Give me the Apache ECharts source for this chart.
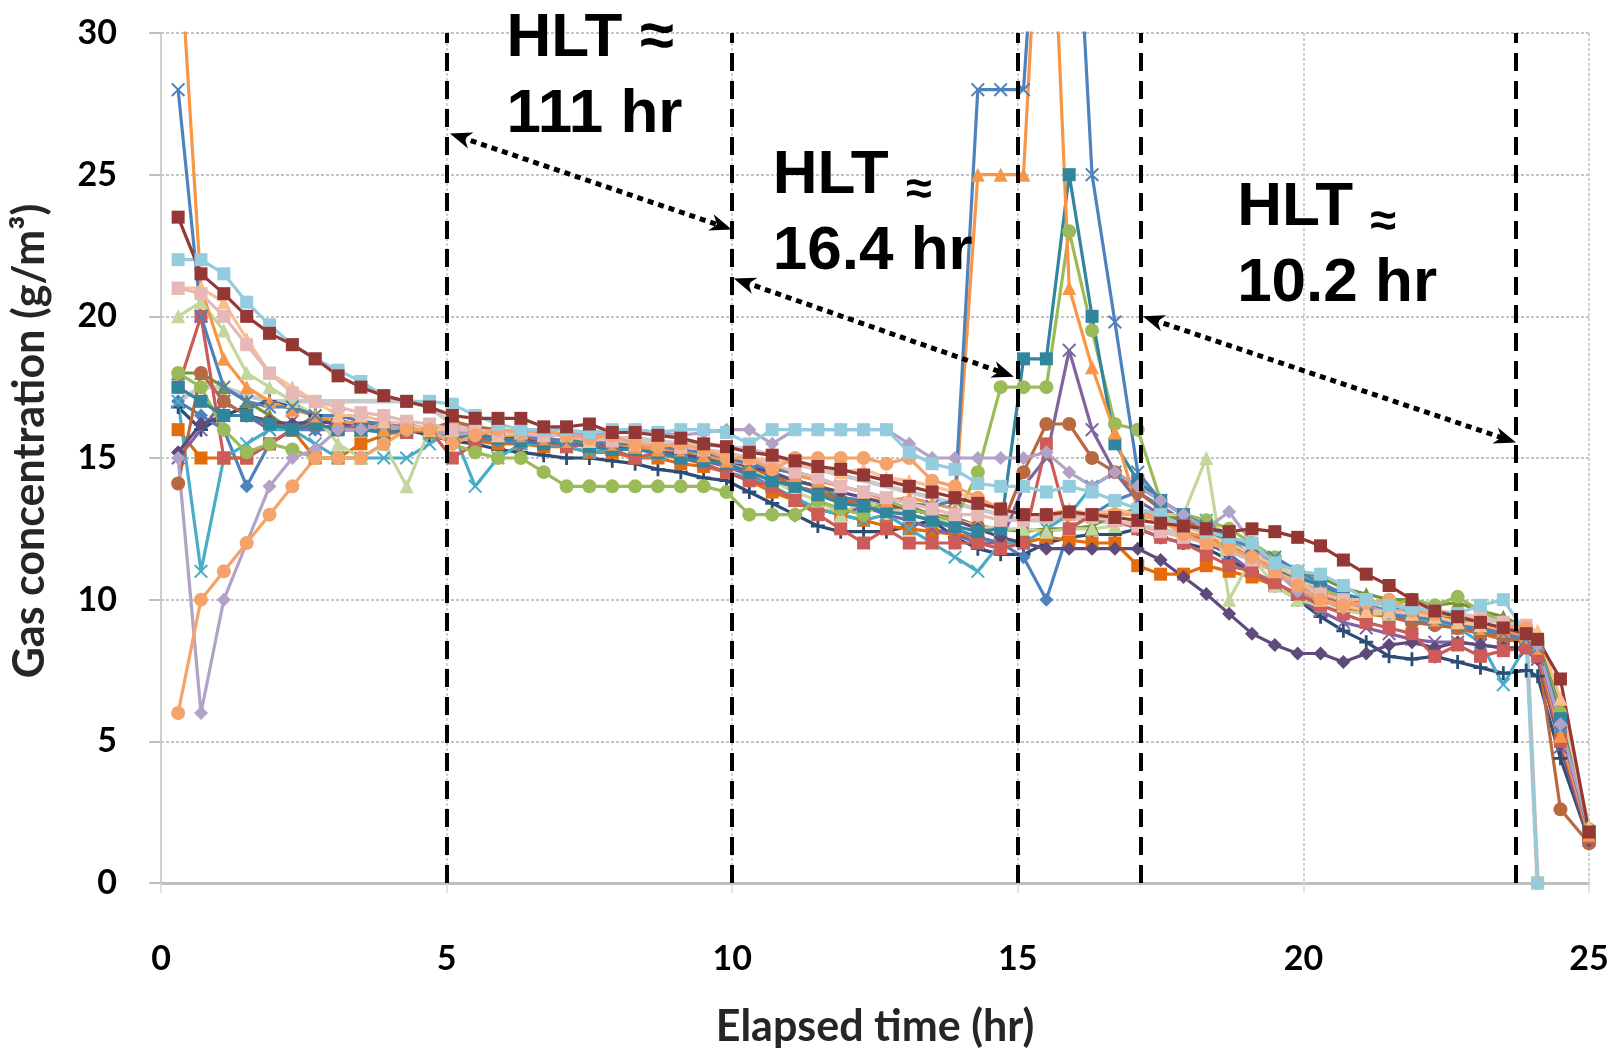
<!DOCTYPE html>
<html>
<head>
<meta charset="utf-8">
<title>Gas concentration vs elapsed time</title>
<script src="https://cdn.jsdelivr.net/npm/echarts@6/dist/echarts.min.js"></script>
<style>
  html, body { margin: 0; padding: 0; background: #ffffff; }
  #chart { width: 1624px; height: 1050px; }
</style>
</head>
<body>
<div id="chart"></div>
<script>
// Sampling times (hr), shared by every monitoring location
const hours = [0.3, 0.7, 1.1, 1.5, 1.9, 2.3, 2.7, 3.1,
  3.5, 3.9, 4.3, 4.7, 5.1, 5.5, 5.9, 6.3, 6.7, 7.1, 7.5, 7.9, 8.3, 8.7, 9.1, 9.5, 9.9,
  10.3, 10.7, 11.1, 11.5, 11.9, 12.3, 12.7, 13.1, 13.5, 13.9,
  14.3, 14.7, 15.1, 15.5, 15.9, 16.3, 16.7, 17.1,
  17.5, 17.9, 18.3, 18.7, 19.1, 19.5, 19.9,
  20.3, 20.7, 21.1, 21.5, 21.9, 22.3, 22.7, 23.1, 23.5, 23.9,
  24.1, 24.5, 25.0];

// Gas concentration (g/m3) at each location
const loc01 = [28, 20, 17.5, 17, 16.8, 16.8, 16.5, 16.5,
  16.3, 16.2, 16.2, 16.0, 15.8, 15.9, 16.0, 15.8, 15.7, 15.6, 15.6, 15.5, 15.5, 15.4, 15.3, 15.2, 15.0,
  14.8, 14.6, 14.5, 14.3, 14.0, 13.8, 13.6, 13.4, 13.3, 13.5,
  28, 28, 28, 40, 40, 25, 19.8, 14.5,
  13.5, 13.0, 12.6, 12.2, 11.8, 11.5, 11.0,
  10.6, 10.2, 9.8, 9.6, 9.4, 9.3, 9.1, 9.0, 8.8, 8.6,
  8.3, 5.5, 1.8];
const loc02 = [34, 21, 18.5, 17.5, 17.0, 16.7, 16.5, 16.3,
  16.2, 16.0, 16.1, 16.0, 15.9, 16.0, 15.8, 15.8, 15.7, 15.6, 15.6, 15.5, 15.4, 15.3, 15.3, 15.1, 14.9,
  14.8, 14.7, 14.4, 14.2, 14.0, 13.8, 13.5, 13.6, 13.4, 13.2,
  25, 25, 25, 40, 21, 18.2, 15.9, 13.2,
  12.8, 12.4, 12.2, 11.8, 11.5, 11.0, 10.6,
  10.3, 10.0, 9.8, 9.6, 9.5, 9.3, 9.2, 9.0, 8.9, 8.7,
  8.3, 5.2, 1.7];
const loc03 = [23.5, 21.5, 20.8, 20.0, 19.4, 19.0, 18.5, 17.9,
  17.5, 17.2, 17.0, 16.8, 16.5, 16.4, 16.4, 16.4, 16.1, 16.1, 16.2, 15.9, 15.9, 15.8, 15.7, 15.5, 15.4,
  15.2, 15.1, 14.9, 14.7, 14.6, 14.4, 14.2, 14.0, 13.8, 13.6,
  13.4, 13.2, 13.0, 13.0, 13.1, 13.0, 12.9, 12.8,
  12.7, 12.6, 12.5, 12.4, 12.5, 12.4, 12.2,
  11.9, 11.4, 10.9, 10.5, 10.0, 9.6, 9.4, 9.2, 9.0, 8.8,
  8.6, 7.2, 1.8];
const loc04 = [22, 22, 21.5, 20.5, 19.7, 19.0, 18.5, 18.1,
  17.7, 17.2, 17.0, 17.0, 16.9, 16.5, 16.2, 16.0, 16.0, 16.0, 15.9, 16.0, 16.0, 15.9, 16.0, 16.0, 15.9,
  15.5, 16.0, 16.0, 16.0, 16.0, 16.0, 16.0, 15.2, 14.8, 14.6,
  14.1, 14.0, 14.0, 13.8, 14.0, 13.8, 13.5, 13.2,
  13.0, 12.6, 12.4, 12.2, 12.0, 11.3, 11.0,
  10.9, 10.5, 10.0, 9.8, 9.7, 9.6, 9.5, 9.8, 10.0, 8.8,
  0, null, null];
const loc05 = [6, 10, 11, 12, 13, 14, 15, 15,
  15.0, 15.5, 16.0, 16.0, 15.5, 15.8, 16.0, 15.9, 16.0, 15.8, 15.7, 15.8, 15.5, 15.4, 15.5, 15.3, 15.0,
  15.0, 14.6, 15.0, 15.0, 15.0, 15.0, 14.8, 15.0, 14.2, 14.0,
  13.6, 13.2, 13.0, 13.0, 13.0, 13.0, 13.0, 13.0,
  12.8, 12.3, 12.0, 11.8, 11.5, 11.0, 10.5,
  10.0, 9.8, 9.9, 10.0, 9.6, 9.5, 9.4, 9.2, 9.0, 9.0,
  0, null, null];
const loc06 = [15, 6, 10, 12, 14, 15, 15.3, 16.0,
  16.0, 16.2, 16.0, 16.0, 15.8, 15.9, 16.0, 15.8, 15.8, 15.9, 15.8, 15.9, 16.0, 15.9, 15.8, 15.9, 16.0,
  16.0, 15.5, 16.0, 16.0, 16.0, 16.0, 16.0, 15.5, 15.0, 15.0,
  15.0, 15.0, 15.0, 15.2, 14.5, 14.0, 14.5, 14.0,
  13.5, 13.0, 12.5, 13.1, 12.0, 11.0, 10.3,
  10.0, 9.7, 9.8, 9.5, 9.8, 9.6, 9.4, 9.1, 9.0, 8.8,
  8.4, 5.6, 1.9];
const loc07 = [15.2, 16.2, 16.5, 16.5, 16.3, 16.2, 16.3, 16.2,
  16.2, 16.1, 16.0, 16.0, 15.8, 15.9, 15.8, 15.7, 15.6, 15.6, 15.5, 15.4, 15.4, 15.2, 15.1, 15.0, 14.9,
  14.7, 14.5, 14.2, 14.0, 13.8, 13.6, 13.4, 13.2, 13.0, 12.8,
  12.5, 12.2, 12.0, 11.8, 11.8, 11.8, 11.8, 11.8,
  11.4, 10.8, 10.2, 9.5, 8.8, 8.4, 8.1,
  8.1, 7.8, 8.1, 8.4, 8.5, 8.3, 8.5, 8.4, 8.3, 8.3,
  7.9, 4.9, 1.5];
const loc08 = [18, 17.5, 16, 15.2, 15.5, 15.3, 15.0, 15.0,
  15.0, 15.5, 16.0, 16.0, 15.5, 15.2, 15.0, 15.0, 14.5, 14.0, 14.0, 14.0, 14.0, 14.0, 14.0, 14.0, 13.8,
  13.0, 13.0, 13.0, 13.5, 13.2, 13.0, 13.5, 13.2, 13.0, 12.8,
  14.5, 17.5, 17.5, 17.5, 23.0, 19.5, 16.2, 16.0,
  13.5, 13.0, 12.8, 12.5, 12.0, 11.5, 11.0,
  10.5, 10.0, 10.0, 9.8, 10.0, 9.8, 10.1, 9.6, 9.2, 8.9,
  8.5, 6.0, 1.9];
const loc09 = [14.1, 18, 17, 16.5, 16.3, 16.0, 16.2, 16.0,
  16.0, 16.1, 16.2, 16.0, 16.3, 16.1, 16.0, 15.9, 15.9, 15.8, 15.7, 15.6, 15.5, 15.4, 15.3, 15.1, 15.0,
  14.6, 14.4, 14.0, 13.8, 13.5, 13.4, 13.3, 13.2, 13.0, 12.9,
  12.6, 12.5, 14.5, 16.2, 16.2, 15.0, 14.5, 13.8,
  13.2, 12.8, 12.4, 12.0, 11.6, 11.0, 10.6,
  10.2, 9.8, 9.6, 9.4, 9.2, 9.1, 9.0, 8.8, 8.7, 8.5,
  8.2, 2.6, 1.4];
const loc10 = [17.5, 17.0, 16.5, 16.5, 16.2, 16.0, 16.2, 16.0,
  16.0, 15.9, 16.0, 16.0, 15.8, 15.8, 15.7, 15.6, 15.5, 15.6, 15.4, 15.3, 15.3, 15.2, 15.0, 14.9, 14.8,
  14.5, 14.2, 14.0, 13.7, 13.4, 13.3, 13.1, 13.0, 12.8, 12.6,
  12.4, 12.5, 18.5, 18.5, 25.0, 20.0, 15.5, 14.2,
  13.5, 13.0, 12.5, 12.0, 11.5, 11.0, 10.8,
  10.5, 10.2, 10.0, 9.8, 9.6, 9.4, 9.3, 9.1, 9.0, 8.9,
  8.5, 5.8, 1.8];
const loc11 = [17, 11, 15, 15.5, 16.0, 16.0, 15.5, 15.0,
  15.0, 15.0, 15.0, 15.5, 16.0, 14.0, 15.0, 15.5, 15.5, 15.4, 15.2, 15.3, 15.0, 15.1, 15.0, 14.8, 14.5,
  14.3, 14.0, 13.6, 13.2, 13.0, 12.8, 13.0, 12.5, 12.0, 11.5,
  11.0, 12.0, 12.0, 12.5, 13.0, 14.0, 14.5, 14.0,
  13.5, 13.0, 12.8, 12.2, 11.5, 11.2, 10.8,
  10.5, 10.0, 9.8, 9.6, 9.4, 9.2, 9.0, 8.5, 7.0, 8.4,
  8.0, 5.2, 1.6];
const loc12 = [17, 16.5, 16.0, 14.0, 15.5, 16.0, 16.0, 16.0,
  16.0, 16.0, 16.1, 16.0, 15.8, 15.7, 15.6, 15.5, 15.6, 15.5, 15.4, 15.4, 15.3, 15.2, 15.1, 15.0, 14.8,
  14.5, 14.2, 14.0, 13.8, 13.6, 13.5, 13.2, 13.0, 12.8, 12.5,
  12.2, 12.0, 11.5, 10.0, 12.5, 13.0, 13.5, 13.8,
  13.3, 12.8, 12.3, 11.8, 11.4, 11.0, 10.5,
  10.2, 10.0, 9.7, 9.5, 9.3, 9.1, 9.0, 8.9, 8.8, 8.6,
  8.2, 5.5, 1.7];
const loc13 = [20, 20.5, 19.5, 18, 17.5, 17.0, 16.5, 15.5,
  15.0, 15.5, 14.0, 16.0, 16.0, 15.8, 15.8, 15.7, 15.7, 15.6, 15.6, 15.5, 15.5, 15.4, 15.3, 15.3, 15.0,
  14.6, 14.2, 13.8, 13.5, 13.0, 13.5, 13.2, 13.0, 12.8, 12.8,
  12.6, 12.5, 12.5, 12.4, 12.5, 12.5, 12.6, 12.8,
  13.0, 13.0, 15.0, 10.0, 11.5, 10.5, 10.0,
  9.8, 9.6, 9.5, 9.5, 9.6, 9.4, 9.3, 9.1, 9.0, 8.8,
  8.5, 5.8, 1.9];
const loc14 = [16.8, 16.0, 16.5, 16.8, 17.0, 16.8, 16.5, 16.3,
  16.2, 16.0, 16.0, 15.8, 15.6, 15.5, 15.3, 15.2, 15.1, 15.0, 15.0, 14.9, 14.8, 14.6, 14.5, 14.3, 14.2,
  13.8, 13.4, 13.0, 12.6, 12.4, 12.4, 12.4, 12.6, 12.8, 12.2,
  11.8, 11.6, 11.6, 12.0, 12.2, 12.3, 12.3, 12.5,
  12.2, 12.0, 11.8, 11.4, 11.0, 10.5, 10.0,
  9.4, 8.9, 8.5, 8.0, 7.9, 8.0, 7.8, 7.6, 7.4, 7.5,
  7.3, 4.4, 1.5];
const loc15 = [17.5, 20.0, 15.0, 15.0, 15.5, 16.0, 16.2, 16.0,
  16.1, 16.0, 15.9, 16.0, 15.0, 15.5, 16.0, 15.8, 15.6, 15.4, 15.5, 15.3, 15.0, 15.2, 15.0, 14.8, 14.5,
  14.2, 14.0, 13.5, 13.0, 12.5, 12.0, 12.5, 12.0, 12.0, 12.0,
  12.0, 11.8, 12.0, 15.5, 12.5, 13.0, 12.8, 12.5,
  12.2, 12.0, 11.6, 11.2, 11.0, 10.6, 10.2,
  9.8, 9.5, 9.2, 9.0, 8.8, 8.0, 8.4, 8.0, 8.2, 8.3,
  8.0, 5.0, 1.6];
const loc16 = [18, 18, 17.5, 17.0, 16.5, 16.0, 16.5, 16.2,
  16.0, 16.2, 16.0, 15.9, 16.0, 15.8, 15.7, 15.8, 15.6, 15.6, 15.5, 15.4, 15.4, 15.3, 15.2, 15.1, 15.0,
  14.6, 14.4, 14.2, 14.0, 13.6, 13.5, 13.2, 13.3, 13.0, 12.8,
  12.6, 12.5, 12.4, 12.5, 12.5, 12.6, 13.0, 13.2,
  13.0, 12.8, 12.6, 12.2, 11.8, 11.3, 11.0,
  10.8, 10.4, 10.2, 10.0, 10.0, 9.8, 9.9, 9.6, 9.4, 9.0,
  8.6, 6.2, 2.0];
const loc17 = [15.0, 16.0, 17.0, 16.5, 16.0, 16.3, 16.0, 16.2,
  16.0, 16.1, 15.9, 16.0, 15.9, 15.7, 15.8, 15.6, 15.5, 15.6, 15.4, 15.3, 15.3, 15.2, 15.0, 14.9, 14.7,
  14.4, 14.0, 13.5, 13.2, 13.0, 13.3, 13.0, 12.8, 12.5, 12.3,
  12.0, 12.0, 14.0, 15.0, 18.8, 16.0, 14.5, 13.5,
  13.0, 12.5, 12.0, 11.6, 11.0, 10.5, 10.0,
  9.6, 9.2, 9.0, 8.8, 8.6, 8.5, 8.5, 8.4, 8.3, 8.2,
  7.9, 4.8, 1.5];
const loc18 = [21.0, 20.8, 20.0, 19.0, 18.0, 17.3, 17.0, 16.8,
  16.6, 16.5, 16.3, 16.2, 16.0, 16.0, 15.9, 15.9, 15.8, 15.8, 15.7, 15.6, 15.6, 15.5, 15.4, 15.3, 15.2,
  15.0, 14.8, 14.5, 14.3, 14.0, 13.8, 13.6, 13.4, 13.2, 13.0,
  13.0, 12.8, 12.8, 12.9, 13.0, 12.9, 12.8, 12.6,
  12.4, 12.2, 12.0, 11.8, 11.4, 11.0, 10.6,
  10.2, 10.0, 10.0, 9.8, 9.8, 9.6, 9.5, 9.4, 9.2, 9.1,
  0, null, null];
const loc19 = [21.0, 21.0, 20.5, 19.2, 18.0, 17.5, 17.0, 16.5,
  16.5, 16.3, 16.2, 16.0, 16.0, 16.0, 15.8, 15.9, 15.8, 15.8, 15.6, 15.7, 15.5, 15.5, 15.4, 15.3, 15.2,
  15.0, 14.9, 14.8, 14.7, 14.5, 14.6, 14.3, 14.2, 14.0, 13.8,
  13.5, 13.2, 13.0, 13.0, 13.2, 13.0, 13.2, 13.0,
  12.8, 12.6, 12.3, 12.0, 11.6, 11.2, 10.8,
  10.0, 9.8, 9.6, 9.6, 9.5, 9.4, 9.2, 9.1, 9.0, 9.0,
  8.9, 6.5, 2.0];
const loc20 = [17.0, 17.5, 17.5, 17.2, 17.0, 17.0, 17.0, 17.0,
  17.0, 17.0, 17.0, 16.8, 16.2, 16.0, 16.0, 15.9, 15.9, 15.8, 15.8, 15.7, 15.7, 15.6, 15.5, 15.5, 15.4,
  15.3, 15.1, 14.8, 14.6, 14.4, 14.2, 14.0, 13.8, 13.6, 13.4,
  13.2, 13.0, 12.8, 12.8, 12.9, 12.8, 12.7, 12.6,
  12.5, 12.3, 12.0, 11.7, 11.4, 11.0, 10.7,
  10.3, 10.0, 9.9, 9.8, 9.7, 9.6, 9.5, 9.3, 9.2, 9.0,
  0, null, null];
const loc21 = [16.0, 15.0, 15.0, 15.0, 15.5, 16.0, 15.0, 15.0,
  15.5, 15.8, 16.0, 16.0, 15.8, 15.6, 15.5, 15.5, 15.4, 15.4, 15.2, 15.2, 15.0, 15.0, 14.8, 14.7, 14.5,
  14.2, 13.8, 13.5, 13.2, 13.0, 12.8, 12.6, 12.5, 12.4, 12.3,
  12.2, 12.0, 12.0, 12.2, 12.1, 12.0, 12.0, 11.2,
  10.9, 10.9, 11.2, 11.0, 10.8, 10.5, 10.2,
  10.0, 9.7, 9.5, 9.4, 9.3, 9.2, 9.0, 8.8, 8.6, 8.5,
  8.2, 5.3, 1.6];

// Boundaries between the ventilation periods (hr)
const periodBounds = [5, 10, 15, 17.15, 23.72];

// Half-life annotations: text anchor [hr, g/m3] and value
const hltValues = ['111', '16.4', '10.2'];
const hltAnchors = [[6.05, 28.45], [10.71, 23.6], [18.84, 22.48]];

// Double-headed arrows spanning each period: [start, end] in [hr, g/m3]
const hltArrows = [
  [[5.24, 26.33], [9.81, 23.19]],
  [[10.21, 21.21], [14.75, 18.0]],
  [[17.37, 19.88], [23.54, 15.67]]
];

// ---------- presentation ----------
const MARK_X = 'path://M1,0 L5,4 L9,0 L10,1 L6,5 L10,9 L9,10 L5,6 L1,10 L0,9 L4,5 L0,1 Z';
const MARK_PLUS = 'path://M4,0 H6 V4 H10 V6 H6 V10 H4 V6 H0 V4 H4 Z';
const ARROW_HEAD = 'path://M5,0 L10,12 L5,8.5 L0,12 Z';

// draw order: later entries sit on top
const locations = [
  { name: 'Location 20', values: loc20, color: '#C9C9C9', symbol: 'none' },
  { name: 'Location 14', values: loc14, color: '#2C4D75', symbol: MARK_PLUS },
  { name: 'Location 21', values: loc21, color: '#E46C0A', symbol: 'rect' },
  { name: 'Location 16', values: loc16, color: '#77933C', symbol: 'triangle' },
  { name: 'Location 17', values: loc17, color: '#8064A2', symbol: MARK_X },
  { name: 'Location 12', values: loc12, color: '#4F81BD', symbol: 'diamond' },
  { name: 'Location 11', values: loc11, color: '#4BACC6', symbol: MARK_X },
  { name: 'Location 09', values: loc09, color: '#B8693F', symbol: 'circle' },
  { name: 'Location 13', values: loc13, color: '#C3D69B', symbol: 'triangle' },
  { name: 'Location 07', values: loc07, color: '#604A7B', symbol: 'diamond' },
  { name: 'Location 15', values: loc15, color: '#CD5C58', symbol: 'rect' },
  { name: 'Location 08', values: loc08, color: '#9BBB59', symbol: 'circle' },
  { name: 'Location 10', values: loc10, color: '#31859C', symbol: 'rect' },
  { name: 'Location 02', values: loc02, color: '#F79646', symbol: 'triangle' },
  { name: 'Location 01', values: loc01, color: '#4F81BD', symbol: MARK_X },
  { name: 'Location 06', values: loc06, color: '#B3A2C7', symbol: 'diamond' },
  { name: 'Location 19', values: loc19, color: '#FABF8F', symbol: 'triangle' },
  { name: 'Location 18', values: loc18, color: '#E6B9B8', symbol: 'rect' },
  { name: 'Location 05', values: loc05, color: '#F5A36B', symbol: 'circle' },
  { name: 'Location 04', values: loc04, color: '#93CDDD', symbol: 'rect' },
  { name: 'Location 03', values: loc03, color: '#953735', symbol: 'rect' }
];

const dataSeries = locations.map(loc => ({
  name: loc.name,
  type: 'line',
  data: hours.map((h, i) => [h, loc.values[i]]).filter(p => p[1] != null),
  symbol: loc.symbol,
  symbolSize: loc.symbol === 'rect' ? 13 : 14,
  showSymbol: loc.symbol !== 'none',
  lineStyle: { color: loc.color, width: loc.symbol === 'none' ? 4.5 : 3.2 },
  itemStyle: { color: loc.color },
  emphasis: { disabled: true },
  z: 2
}));

const boundarySeries = {
  name: 'period bounds',
  type: 'line',
  data: [],
  z: 8,
  markLine: {
    silent: true,
    symbol: ['none', 'none'],
    label: { show: false },
    emphasis: { disabled: true },
    lineStyle: { color: '#000000', width: 4, type: [18, 10] },
    data: periodBounds.map(h => ({ xAxis: h }))
  }
};

const arrowSeries = {
  name: 'half-life spans',
  type: 'line',
  data: [],
  z: 9,
  markLine: {
    silent: true,
    symbol: [ARROW_HEAD, ARROW_HEAD],
    symbolSize: [17, 22],
    label: { show: false },
    emphasis: { disabled: true },
    lineStyle: { color: '#000000', width: 5, type: [6, 5] },
    data: hltArrows.map(a => [{ coord: a[0] }, { coord: a[1] }])
  }
};

const noteFont = { fontFamily: 'Liberation Sans', fontWeight: 'bold', color: '#000000', opacity: 1, textBorderWidth: 0 };
const noteSeries = {
  name: 'half-life notes',
  type: 'scatter',
  clip: false,
  silent: true,
  symbolSize: 0,
  itemStyle: { color: '#000000', opacity: 1 },
  emphasis: { disabled: true },
  z: 10,
  data: hltValues.map((v, i) => ({
    value: hltAnchors[i],
    label: {
      formatter: i === 0
        ? '{b|HLT \u2248}\n{b|' + v + ' hr}'
        : '{b|HLT }{s|\u2248}\n{b|' + v + ' hr}'
    }
  })),
  label: {
    show: true,
    position: 'right',
    distance: 0,
    align: 'left',
    color: '#000000',
    opacity: 1,
    textBorderWidth: 0,
    rich: {
      b: Object.assign({ fontSize: 62, lineHeight: 76 }, noteFont),
      s: Object.assign({ fontSize: 47, lineHeight: 56, verticalAlign: 'bottom' }, noteFont)
    }
  }
};

const tickFont = { fontFamily: 'Lato', fontWeight: 'bold', fontSize: 34, color: '#000000' };
const titleFont = { fontFamily: 'Lato', fontWeight: 'bold', fontSize: 43, color: '#262626' };

const option = {
  backgroundColor: '#ffffff',
  animation: false,
  grid: { left: 161, right: 35, top: 33, bottom: 167, containLabel: false, outerBoundsMode: 'none' },
  xAxis: {
    type: 'value',
    min: 0, max: 25, interval: 5,
    name: 'Elapsed time (hr)',
    nameLocation: 'middle',
    nameGap: 123,
    nameTextStyle: titleFont,
    axisLine: { show: true, lineStyle: { color: '#BFBFBF', width: 3 } },
    axisTick: { show: true, length: 10, lineStyle: { color: '#D9D9D9', width: 1.5 } },
    axisLabel: Object.assign({ margin: 59 }, tickFont),
    splitLine: { show: true, lineStyle: { color: '#D0D0D0', width: 2, type: [3, 2] } }
  },
  yAxis: {
    type: 'value',
    min: 0, max: 30, interval: 5,
    name: 'Gas concentration (g/m\u00B3)',
    nameLocation: 'middle',
    nameGap: 109,
    nameTextStyle: Object.assign({ padding: [0, 0, 0, 34] }, titleFont),
    axisLine: { show: true, lineStyle: { color: '#CFCFCF', width: 2 } },
    axisTick: { show: true, length: 12, lineStyle: { color: '#BFBFBF', width: 2 } },
    axisLabel: Object.assign({ margin: 44 }, tickFont),
    splitLine: { show: true, lineStyle: { color: '#C4C4C4', width: 2, type: [3, 2] } }
  },
  series: dataSeries.concat([boundarySeries, arrowSeries, noteSeries])
};

const chart = echarts.init(document.getElementById('chart'), null, { renderer: 'canvas' });
chart.setOption(option);
</script>
</body>
</html>
